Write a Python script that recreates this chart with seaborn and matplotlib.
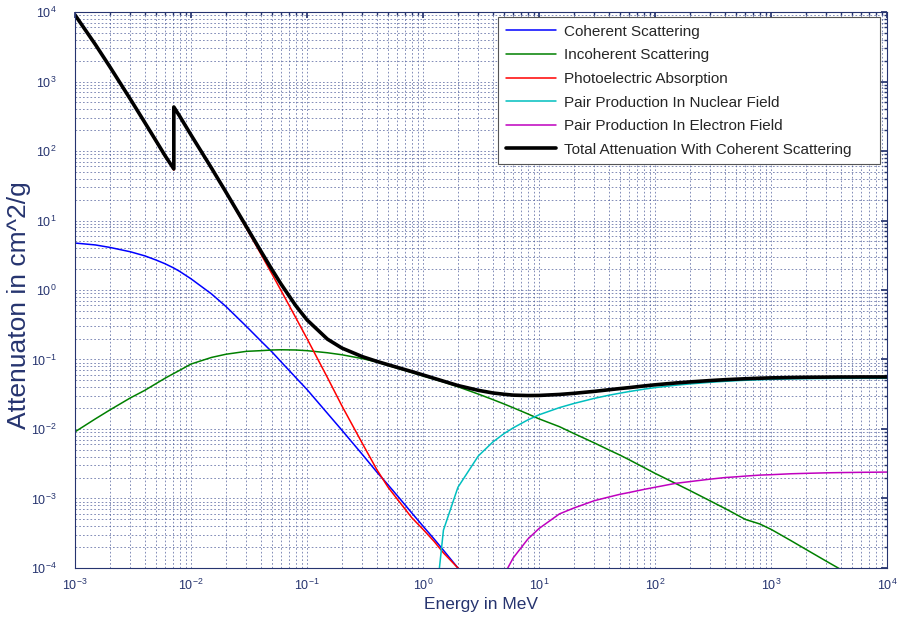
import matplotlib
matplotlib.use('Agg')
import matplotlib.pyplot as plt
import numpy as np
import pandas as pd
import seaborn as sns

nan = np.nan

# photon energy grid (MeV); K-edge listed twice
energy = [1e-3, 1.5e-3, 2e-3, 3e-3, 4e-3, 5e-3, 6e-3, 7.112e-3, 7.112e-3, 8e-3,
          1e-2, 1.5e-2, 2e-2, 3e-2, 4e-2, 5e-2, 6e-2, 8e-2, 0.1, 0.15,
          0.2, 0.3, 0.4, 0.5, 0.6, 0.8, 1, 1.25, 1.5, 2,
          3, 4, 5, 6, 8, 10, 15, 20, 30, 40,
          50, 60, 80, 100, 150, 200, 300, 400, 500, 600,
          800, 1000, 1500, 2000, 3000, 4000, 5000, 6000, 8000, 10000]

coherent = [4.74, 4.45, 4.1, 3.55, 3.1, 2.7, 2.38, 2.07, 2.07, 1.85,
            1.45, 0.88, 0.58, 0.30, 0.185, 0.128, 0.092, 0.055, 0.037, 0.0168,
            0.0096, 0.0043, 0.0024, 0.00157, 0.0011, 6.2e-4, 4.0e-4, 2.6e-4, 1.8e-4, 1.0e-4,
            4.5e-5, nan, nan, nan, nan, nan, nan, nan, nan, nan,
            nan, nan, nan, nan, nan, nan, nan, nan, nan, nan,
            nan, nan, nan, nan, nan, nan, nan, nan, nan, nan]

incoherent = [0.0091, 0.014, 0.0188, 0.028, 0.036, 0.045, 0.054, 0.063, 0.063, 0.07,
              0.086, 0.107, 0.119, 0.131, 0.134, 0.137, 0.138, 0.137, 0.134, 0.125,
              0.117, 0.103, 0.092, 0.082, 0.075, 0.065, 0.058, 0.052, 0.0475, 0.0405,
              0.0318, 0.0265, 0.0229, 0.0202, 0.0165, 0.0140, 0.0108, 0.0086, 0.0063, 0.0050,
              0.0042, 0.0036, 0.0028, 0.0023, 0.00165, 0.0013, 9.2e-4, 7.2e-4, 5.9e-4, 5.0e-4,
              4.3e-4, 3.6e-4, 2.45e-4, 1.85e-4, 1.25e-4, 9.5e-5, 7.7e-5, 6.4e-5, 5.0e-5, 4.0e-5]

photoelectric = [9080, 3394, 1621, 554, 254, 137.3, 82.6, 53.2, 428, 314,
                 169.1, 56.2, 25.1, 7.75, 3.3, 1.69, 0.97, 0.40, 0.20, 0.055,
                 0.0215, 6.2e-3, 2.6e-3, 1.45e-3, 9.8e-4, 5.3e-4, 3.6e-4, 2.4e-4, 1.65e-4, 1.0e-4,
                 5.5e-5, nan, nan, nan, nan, nan, nan, nan, nan, nan,
                 nan, nan, nan, nan, nan, nan, nan, nan, nan, nan,
                 nan, nan, nan, nan, nan, nan, nan, nan, nan, nan]

pair_nuclear = [nan, nan, nan, nan, nan, nan, nan, nan, nan, nan,
                nan, nan, nan, nan, nan, nan, nan, nan, nan, nan,
                nan, nan, nan, nan, nan, nan, nan, 2e-5, 3.5e-4, 1.45e-3,
                4.1e-3, 6.5e-3, 8.6e-3, 1.04e-2, 1.35e-2, 1.6e-2, 2.03e-2, 2.33e-2, 2.76e-2, 3.06e-2,
                3.28e-2, 3.46e-2, 3.74e-2, 3.94e-2, 4.26e-2, 4.45e-2, 4.7e-2, 4.85e-2, 4.95e-2, 5.02e-2,
                5.12e-2, 5.18e-2, 5.26e-2, 5.3e-2, 5.33e-2, 5.35e-2, 5.355e-2, 5.36e-2, 5.365e-2, 5.37e-2]

pair_electron = [nan, nan, nan, nan, nan, nan, nan, nan, nan, nan,
                 nan, nan, nan, nan, nan, nan, nan, nan, nan, nan,
                 nan, nan, nan, nan, nan, nan, nan, nan, nan, nan,
                 5e-6, 3.0e-5, 8e-5, 1.4e-4, 2.6e-4, 3.7e-4, 6e-4, 7.3e-4, 9.3e-4, 1.05e-3,
                 1.15e-3, 1.22e-3, 1.35e-3, 1.45e-3, 1.65e-3, 1.75e-3, 1.9e-3, 2.0e-3, 2.05e-3, 2.1e-3,
                 2.17e-3, 2.2e-3, 2.27e-3, 2.3e-3, 2.34e-3, 2.36e-3, 2.37e-3, 2.38e-3, 2.39e-3, 2.4e-3]

total = [9085, 3399, 1626, 557.6, 256.7, 139.8, 84.84, 55.3, 430, 315.9,
         170.6, 57.08, 25.68, 8.176, 3.629, 1.958, 1.205, 0.5952, 0.3717, 0.1964,
         0.146, 0.1099, 0.094, 0.08414, 0.07704, 0.06699, 0.05995, 0.0535, 0.0488, 0.0422,
         0.0360, 0.0330, 0.0316, 0.0307, 0.0303, 0.0304, 0.0314, 0.0326, 0.0348, 0.0367,
         0.0382, 0.0394, 0.0416, 0.0432, 0.0459, 0.0476, 0.0498, 0.0512, 0.0521, 0.0528,
         0.0538, 0.0544, 0.0551, 0.0555, 0.0558, 0.0560, 0.0560, 0.0561, 0.0561, 0.0561]

series = [
    ('Coherent Scattering', coherent, '#0000ff', 1.1),
    ('Incoherent Scattering', incoherent, '#008000', 1.1),
    ('Photoelectric Absorption', photoelectric, '#ff0000', 1.1),
    ('Pair Production In Nuclear Field', pair_nuclear, '#00bfbf', 1.1),
    ('Pair Production In Electron Field', pair_electron, '#bf00bf', 1.1),
    ('Total Attenuation With Coherent Scattering', total, '#000000', 2.6),
]

x_decades = np.arange(-3, 5)
y_decades = np.arange(-4, 5)

NAVY = '#26346f'

sns.set_theme(style='white')
plt.rcParams['font.family'] = ['Liberation Sans', 'DejaVu Sans']
plt.rcParams['mathtext.default'] = 'regular'

fig = plt.figure(figsize=(8.98, 6.2), dpi=100)
ax = fig.add_axes([0.0835, 0.0839, 0.9043, 0.8967])

for name, values, colour, lw in series:
    df = pd.DataFrame({'Energy': energy, 'Value': values}).dropna()
    sns.lineplot(data=df, x='Energy', y='Value', ax=ax, color=colour, lw=lw,
                 label=name, estimator=None, sort=False)

ax.set_xscale('log')
ax.set_yscale('log')
ax.set_xlim(1e-3, 1e4)
ax.set_ylim(1e-4, 1e4)
for axis, decades in ((ax.xaxis, x_decades), (ax.yaxis, y_decades)):
    major = 10.0 ** decades
    minor = [m * d for d in major[:-1] for m in range(2, 10)]
    axis.set_major_locator(matplotlib.ticker.FixedLocator(major))
    axis.set_major_formatter(matplotlib.ticker.LogFormatterSciNotation())
    axis.set_minor_locator(matplotlib.ticker.FixedLocator(minor))
    axis.set_minor_formatter(matplotlib.ticker.NullFormatter())

ax.grid(True, which='both', linestyle=(0, (2, 2.5)), color='#3d4d90', linewidth=0.6, alpha=0.75)
ax.set_axisbelow(True)
ax.tick_params(which='both', direction='in', top=True, right=True, colors=NAVY, labelsize=9)
ax.tick_params(axis='y', which='major', pad=13)
ax.tick_params(axis='x', which='major', pad=7)
ax.tick_params(which='major', length=4)
ax.tick_params(which='minor', length=2)
for sp in ax.spines.values():
    sp.set_color(NAVY)
    sp.set_linewidth(0.8)

ax.set_xlabel('Energy in MeV', fontsize=12.5, color=NAVY)
ax.set_ylabel('Attenuaton in cm^2/g', fontsize=19, color=NAVY)
ax.xaxis.set_label_coords(0.5, -0.052)
ax.yaxis.set_label_coords(-0.054, 0.473)

# wide legend box, text flush left as in the original
leg = ax.legend(loc='upper left', bbox_to_anchor=(0.521, 0.991, 0.4704, 0), mode='expand',
                fontsize=11, handlelength=3.3, labelspacing=0.63, borderaxespad=0,
                fancybox=False, framealpha=1, edgecolor='#555555',
                handletextpad=0.5, borderpad=0.5)
leg.get_frame().set_linewidth(0.8)

plt.savefig('out.png', dpi=100)
